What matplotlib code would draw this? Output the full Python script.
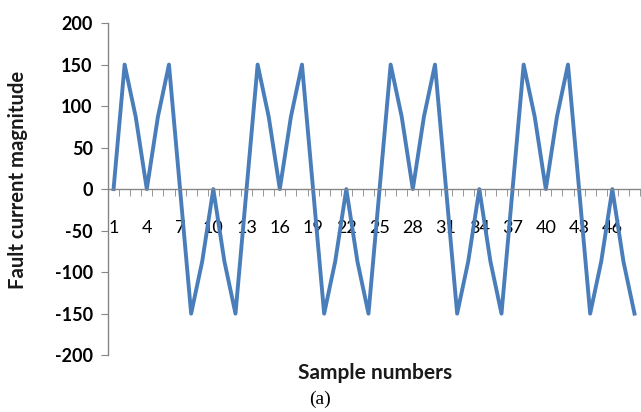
import matplotlib
matplotlib.use("Agg")
import matplotlib.pyplot as plt
from matplotlib.ticker import FixedLocator

# Sample data (one period repeats every 12 samples)
samples = list(range(1, 49))
current = [0, 150, 87, 0, 87, 150, 0, -150, -87, 0, -87, -150,
           0, 150, 87, 0, 87, 150, 0, -150, -87, 0, -87, -150,
           0, 150, 87, 0, 87, 150, 0, -150, -87, 0, -87, -150,
           0, 150, 87, 0, 87, 150, 0, -150, -87, 0, -87, -150]
x_labels = list(range(1, 48, 3))
y_ticks = [-200, -150, -100, -50, 0, 50, 100, 150, 200]

plt.rcParams["font.family"] = ["Lato", "DejaVu Sans"]

fig = plt.figure(figsize=(6.41, 4.12), dpi=100)
ax = fig.add_axes([0.1685, 0.138, 0.83, 0.806])

ax.plot(samples, current, color="#4A7EBB", linewidth=2.8)

# Excel-like category axis crossing at zero
ax.set_xlim(0.5, 48.5)
ax.set_ylim(-200, 200)
ax.spines["top"].set_visible(False)
ax.spines["right"].set_visible(False)
ax.spines["bottom"].set_position(("data", 0))
for s in ("left", "bottom"):
    ax.spines[s].set_color("#868686")
    ax.spines[s].set_linewidth(1.0)

ax.set_yticks(y_ticks)
ax.set_yticklabels([str(v) for v in y_ticks], fontweight="bold", fontsize=13)
ax.tick_params(axis="y", direction="out", length=5, color="#868686", pad=6)

# labels at points, tick marks between categories
ax.set_xticks(x_labels)
ax.set_xticklabels([str(v) for v in x_labels], fontsize=13)
ax.xaxis.set_minor_locator(FixedLocator([i + 0.5 for i in range(0, 49)]))
ax.tick_params(axis="x", which="major", length=0, pad=22)
ax.tick_params(axis="x", which="minor", direction="out", length=5,
               color="#868686")

fig.text(18 / 641, 1 - 180 / 412, "Fault current magnitude", fontweight="bold",
         fontsize=14.6, rotation=90, ha="center", va="center", color="#1a1a1a")
fig.text(375 / 641, 1 - 373 / 412, "Sample numbers", fontweight="bold",
         fontsize=15, ha="center", va="center", color="#1a1a1a")
fig.text(320 / 641, 1 - 399 / 412, "(a)", family="Liberation Serif",
         fontsize=14, ha="center", va="center")

plt.savefig("out.png", dpi=100)
